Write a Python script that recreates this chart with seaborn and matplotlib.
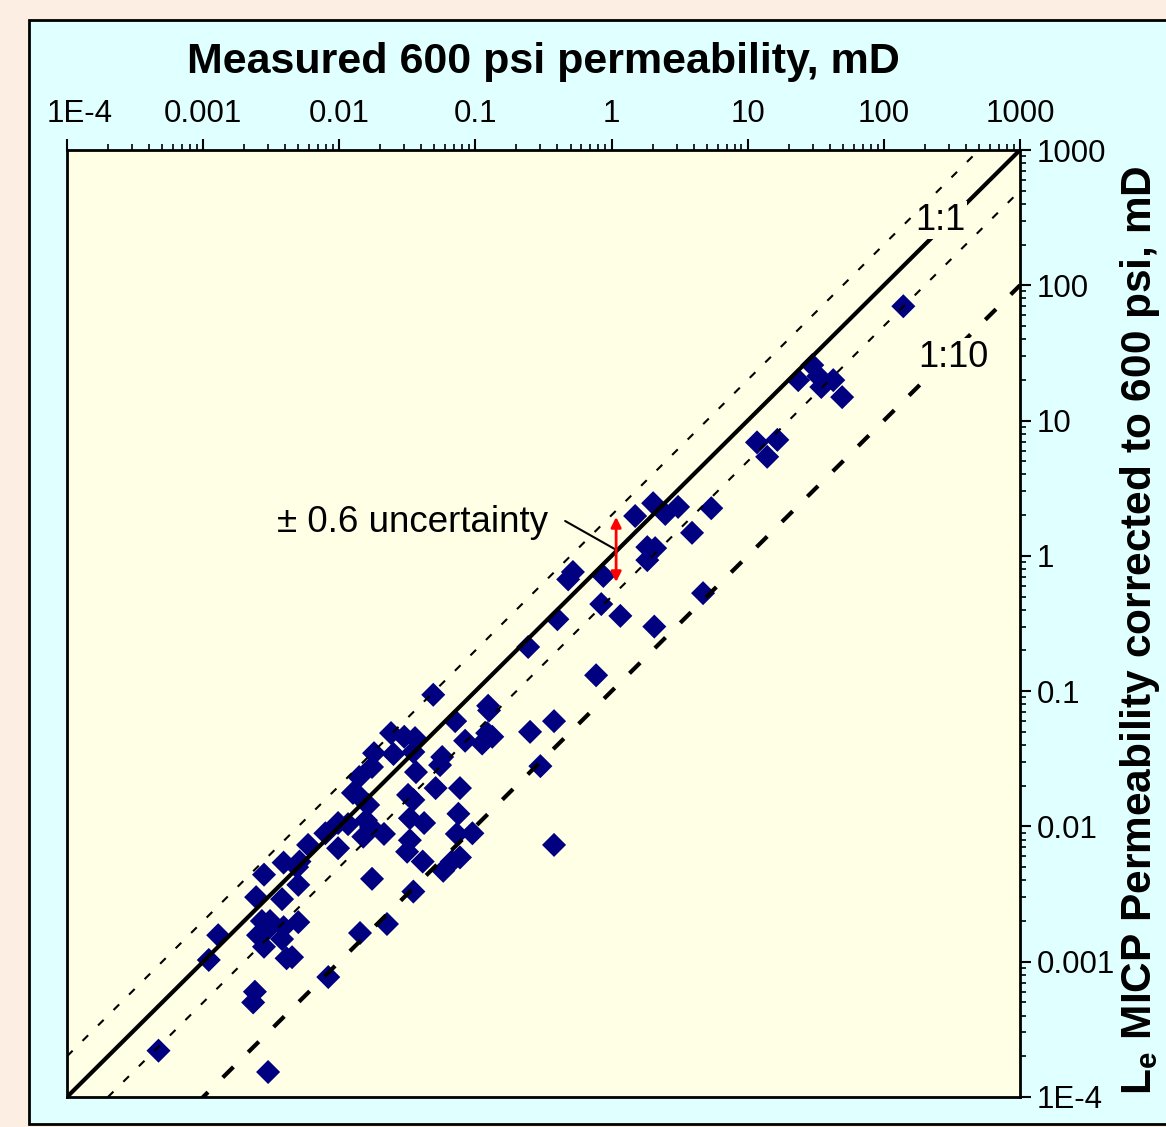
import numpy as np
import pandas as pd
import matplotlib
matplotlib.use("Agg")
import matplotlib.pyplot as plt
import matplotlib.transforms as mtransforms
from matplotlib.patches import Rectangle
from matplotlib.ticker import FixedLocator, FixedFormatter, LogLocator, NullFormatter
import seaborn as sns

# ---------------- data ----------------
measured = [139, 23.5, 29.8, 33, 34.7, 42.5, 49.4, 11.7, 16.5, 13.9, 5.4, 3.9, 4.7,
            2.02, 2.48, 3.08, 1.49, 1.83, 2.09, 1.83, 0.52, 0.48, 0.87, 0.84, 1.16, 2.06,
            0.40, 0.244, 0.77,
            0.049, 0.124, 0.126, 0.071, 0.084, 0.122, 0.133, 0.112, 0.252, 0.378,
            0.057, 0.055, 0.30, 0.051, 0.077, 0.075, 0.073, 0.095, 0.042, 0.033,
            0.077, 0.067, 0.058, 0.041, 0.378,
            0.024, 0.030, 0.036, 0.035, 0.018, 0.025, 0.0174, 0.0366, 0.014, 0.0126,
            0.0137, 0.0163, 0.032, 0.035, 0.0098, 0.0116, 0.0157, 0.0171, 0.0150,
            0.0213, 0.0079, 0.0059, 0.0098, 0.033, 0.0315, 0.0174, 0.0051, 0.0049,
            0.0050, 0.035, 0.0224, 0.0142, 0.0050,
            0.0039, 0.0028, 0.00245, 0.0038, 0.0027, 0.0031, 0.0030, 0.0039, 0.00253,
            0.00285, 0.0038, 0.0028, 0.0041, 0.0045, 0.00129, 0.0011, 0.0024, 0.00233,
            0.00047, 0.0030, 0.0083]
micp = [70, 19.9, 25.7, 21.3, 17.7, 19.9, 14.9, 6.9, 7.2, 5.4, 2.25, 1.48, 0.53,
        2.45, 2.04, 2.30, 1.97, 1.16, 1.14, 0.93, 0.76, 0.67, 0.71, 0.44, 0.36, 0.30,
        0.34, 0.212, 0.131,
        0.094, 0.078, 0.072, 0.060, 0.043, 0.049, 0.046, 0.041, 0.050, 0.060,
        0.0326, 0.0284, 0.0279, 0.0192, 0.0192, 0.0124, 0.0088, 0.0089, 0.0106, 0.0115,
        0.0059, 0.0055, 0.0047, 0.0055, 0.0073,
        0.049, 0.046, 0.045, 0.0355, 0.0348, 0.0343, 0.0275, 0.0252, 0.0232, 0.0177,
        0.0171, 0.0144, 0.0171, 0.0157, 0.0106, 0.0104, 0.0111, 0.0099, 0.0084,
        0.0088, 0.0089, 0.0073, 0.0069, 0.0079, 0.0065, 0.0041, 0.0055, 0.0050,
        0.0037, 0.0033, 0.0019, 0.00163, 0.00196,
        0.0054, 0.0044, 0.0030, 0.0029, 0.0020, 0.0020, 0.0018, 0.0018, 0.00157,
        0.00166, 0.00147, 0.00129, 0.00106, 0.00108, 0.00157, 0.00103, 0.00060, 0.00050,
        0.00022, 0.000153, 0.00077]

tick_values = [1e-4, 1e-3, 1e-2, 1e-1, 1, 10, 100, 1000]
tick_labels = ["1E-4", "0.001", "0.01", "0.1", "1", "10", "100", "1000"]

line_x = [1e-4, 1e3]
one_to_one = [1e-4, 1e3]
upper_band = [2e-4, 2e3]
lower_band = [5e-5, 5e2]
one_to_ten = [1e-5, 1e2]

arrow_x = 1.08
arrow_y = [0.64, 1.94]
note_line_x = [0.456, 1.06]
note_line_y = [1.81, 1.12]

# ---------------- style ----------------
PEACH = "#FDEEE4"
CYAN = "#E0FFFF"
YELLOW = "#FFFFE6"
NAVY = "#000080"

sns.set_style("ticks")
plt.rcParams["font.family"] = ["Liberation Sans", "DejaVu Sans"]
plt.rcParams["mathtext.fontset"] = "custom"
plt.rcParams["mathtext.rm"] = "Liberation Sans"
plt.rcParams["mathtext.bf"] = "Liberation Sans:bold"
plt.rcParams["text.color"] = "black"
plt.rcParams["axes.labelcolor"] = "black"
plt.rcParams["xtick.color"] = "black"
plt.rcParams["ytick.color"] = "black"

W, H = 1166, 1127
fig = plt.figure(figsize=(W / 100, H / 100), dpi=100, facecolor=PEACH)
fig.patches.append(Rectangle((29 / W, 3 / H), 1.2, (1124 - 20) / H,
                             transform=fig.transFigure, facecolor=CYAN,
                             edgecolor="black", linewidth=2, zorder=-10))

ax = fig.add_axes([67 / W, (H - 1097) / H, (1020 - 67) / W, (1097 - 150) / H])
ax.set_zorder(1)
ax.set_facecolor(YELLOW)
ax.set_xscale("log")
ax.set_yscale("log")
ax.set_xlim(1e-4, 1e3)
ax.set_ylim(1e-4, 1e3)

df = pd.DataFrame({"measured": measured, "micp": micp})
sns.scatterplot(data=df, x="measured", y="micp", marker="D", s=150, color=NAVY,
                linewidth=0, edgecolor="none", ax=ax, zorder=2, legend=False)

ax.plot(line_x, one_to_one, color="black", lw=3, zorder=3, solid_capstyle="butt")
ax.plot(line_x, upper_band, color="black", lw=1.5, dashes=(3.8, 6.7), zorder=3)
ax.plot(line_x, lower_band, color="black", lw=1.5, dashes=(3.8, 6.7), zorder=3)
ax.plot(line_x, one_to_ten, color="black", lw=3, dashes=(3.6, 5.0), zorder=3)

ax.plot(note_line_x, note_line_y, color="black", lw=1.5, zorder=4)
ax.annotate("", xy=(arrow_x, arrow_y[1]), xytext=(arrow_x, arrow_y[0]),
            arrowprops=dict(arrowstyle="<|-|>", color="#FF0000", lw=2,
                            mutation_scale=15, shrinkA=0, shrinkB=0), zorder=4)

ax.text(0.342, 1.50, "± 0.6 uncertainty", fontsize=26.5, ha="right", va="baseline", zorder=5)
ax.text(260, 303, "1:1", fontsize=26, ha="center", va="center", zorder=5,
        bbox=dict(facecolor=YELLOW, edgecolor="none", pad=1))
ax.text(324, 29.5, "1:10", fontsize=26, ha="center", va="center", zorder=5,
        bbox=dict(facecolor=YELLOW, edgecolor="none", pad=1))

ax.set_xlabel("")
ax.set_ylabel("")
for axis in (ax.xaxis, ax.yaxis):
    axis.set_major_locator(FixedLocator(tick_values))
    axis.set_major_formatter(FixedFormatter(tick_labels))
    axis.set_minor_locator(LogLocator(base=10, subs=np.arange(2, 10), numticks=100))
    axis.set_minor_formatter(NullFormatter())
ax.xaxis.tick_top()
ax.yaxis.tick_right()
ax.tick_params(which="major", direction="out", length=8, width=1.5,
               labelsize=22.5, colors="black")
ax.tick_params(which="minor", direction="out", length=4, width=1.2, colors="black")
ax.tick_params(axis="x", which="major", pad=7)
ax.tick_params(axis="y", which="major", pad=4)
for s in ax.spines.values():
    s.set_visible(True)
    s.set_linewidth(2)
    s.set_color("black")

# shift first top label slightly right, as in the reference
t0 = ax.xaxis.get_major_ticks()[0]
t0.label2.set_transform(t0.label2.get_transform() +
                        mtransforms.ScaledTranslation(13 / 100, 0, fig.dpi_scale_trans))

fig.text(543 / W, 1 - 62 / H, "Measured 600 psi permeability, mD", fontsize=31,
         fontweight="bold", ha="center", va="center", color="black")
fig.text(1140 / W, 1 - 630 / H,
         r"$\mathbf{L_e}$ MICP Permeability corrected to 600 psi, mD",
         fontsize=30.5, fontweight="bold", rotation=90, ha="center", va="center",
         color="black")

fig.savefig("out.png", dpi=100, facecolor=PEACH)
